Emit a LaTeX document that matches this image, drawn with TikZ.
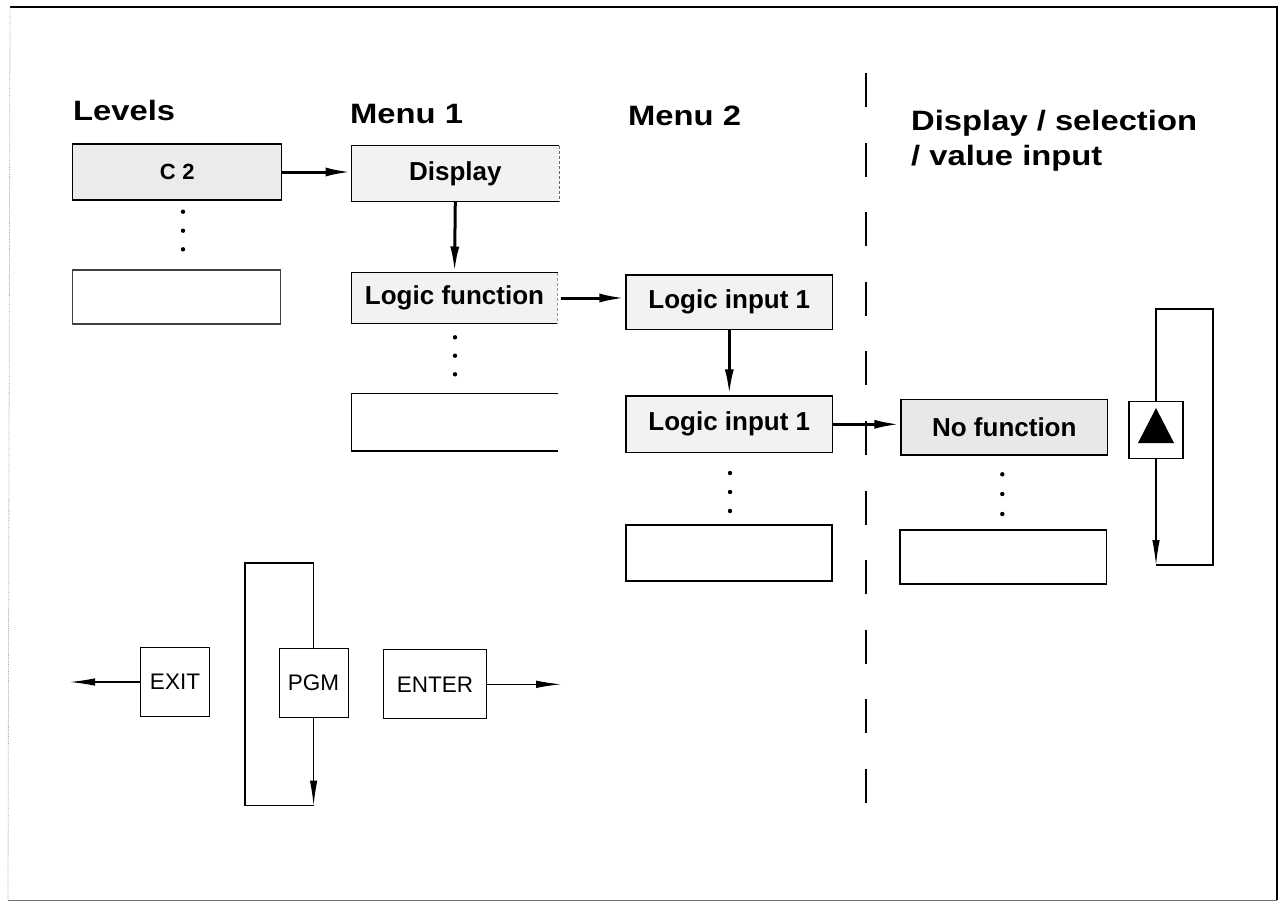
\documentclass[tikz,border=0pt]{standalone}
\usepackage{fontspec}
\setmainfont{Liberation Sans}
\newfontfamily\headfont[FakeStretch=1.17]{Liberation Sans}
\usetikzlibrary{arrows.meta}
\begin{document}
\begin{tikzpicture}[x=1pt,y=-1pt,
  box/.style={draw, line width=1.2pt, inner sep=0pt, font=\bfseries\fontsize{26}{28}\selectfont},
  openr/.style={draw=none, inner sep=0pt, font=\bfseries\fontsize{26}{28}\selectfont},
  keybox/.style={draw, line width=1.1pt, inner sep=0pt, minimum height=69pt, font=\fontsize{22.5}{24}\selectfont},
  heading/.style={anchor=base west, inner sep=0pt, font=\headfont\bfseries\fontsize{28}{30}\selectfont},
  bigarrow/.style={line width=3pt, -{Latex[length=26pt,width=9pt]}},
  thinarrow/.style={line width=1.1pt, -{Latex[length=25pt,width=7.5pt]}},
  loopline/.style={line width=1.1pt},
  dotmark/.style={fill=black, draw=none},
  frameline/.style={line width=1.2pt}
]
\useasboundingbox (0,0) rectangle (1287,905);

% outer frame
\draw[frameline] (10,7) -- (1277,7) -- (1277,900);
\draw[line width=1pt, black!55] (8,900) -- (1277,900);
\draw[line width=0.8pt, black!35, densely dotted] (10,7) -- (8,900);

% headings
\node[heading] (hlev) at (73,120) {Levels};
\node[heading] (hm1) at (350,123) {Menu 1};
\node[heading] (hm2) at (628,125) {Menu 2};
\node[heading] (hds1) at (911,130) {Display / selection};
\node[heading] (hds2) at (911,165) {/ value input};

% separator
\draw[line width=1.3pt, dash pattern=on 34pt off 35.6pt] (866,73) -- (866,803);

% Levels column
\node[box, fill=black!8, font=\bfseries\fontsize{22}{24}\selectfont, minimum width=209pt, minimum height=56pt] (c2) at (177.3,172) {C\hspace{0.3em}2};
\node[box, draw=black!75, minimum width=208pt, minimum height=54pt] (lve) at (176.8,297) {};
\foreach \yy in {211.7,230.7,249.3} \fill[dotmark] (183,\yy) circle (2.2pt);

% Menu 1 column (open right side)
\node[openr, fill=black!5, minimum width=207pt, minimum height=55pt] (disp) at (455.3,173.5) {Display};
\node[openr, fill=black!5, minimum width=205.6pt, minimum height=50.6pt] (logf) at (454.5,298) {Logic function};
\node[openr, minimum width=205.6pt, minimum height=57.4pt] (m1e) at (454.5,422) {};
\foreach \n in {disp,logf,m1e}{
  \draw[line width=1.2pt] (\n.north east) -- (\n.north west) -- (\n.south west) -- (\n.south east);
}
\draw[line width=1pt, black!60, densely dashed] (disp.north east) -- (disp.south east);
\draw[line width=0.8pt, black!40, densely dashed] (logf.north east) -- (logf.south east);
\foreach \yy in {337.3,355.7,374.3} \fill[dotmark] (455,\yy) circle (2.2pt);

% Menu 2 column
\node[box, fill=black!5, minimum width=206.7pt, minimum height=54.3pt] (li1) at (729.3,302.2) {Logic input 1};
\node[box, fill=black!5, minimum width=206.7pt, minimum height=56.7pt] (li2) at (729.3,424.3) {Logic input 1};
\node[box, minimum width=206pt, minimum height=56pt] (m2e) at (729,553) {};
\foreach \yy in {473,492,511} \fill[dotmark] (730,\yy) circle (2.2pt);

% Display / selection column
\node[box, fill=black!9, minimum width=206.7pt, minimum height=55.7pt] (nof) at (1004.3,427.2) {No function};
\node[box, minimum width=206.7pt, minimum height=54pt] (dse) at (1003.3,557) {};
\foreach \yy in {474.3,494,514} \fill[dotmark] (1002.3,\yy) circle (2.2pt);

% up key with loop
\node[box, minimum width=54pt, minimum height=57pt] (tri) at (1156,430) {};
\fill (1138,443) -- (1174,443) -- (1156,408) -- cycle;
\coordinate (tbr) at (1213,565);
\coordinate (ttr) at (1213,309);
\draw[thinarrow] (tri.south) -- (tri.south |- tbr);
\draw[loopline] (tri.south |- tbr) -- (tbr) -- (ttr) -- (tri.north |- ttr) -- (tri.north);

% main arrows
\draw[bigarrow] (c2.east) -- (c2.east -| disp.west);
\draw[bigarrow] (disp.south) -- (logf.north);
\draw[bigarrow] ([xshift=3pt]logf.east) -- (logf.east -| li1.west);
\draw[bigarrow] (li1.south) -- (li2.north);
\draw[bigarrow] (li2.east) -- (li2.east -| nof.west);

% keys
\node[keybox, minimum width=69pt] (exitk) at (175,682) {EXIT};
\node[keybox, minimum width=69pt] (pgm) at (313.6,683.2) {PGM};
\node[keybox, minimum width=102.6pt] (enter) at (435,684.3) {ENTER};
\coordinate (exitend) at (70,682);
\coordinate (enterend) at (561,684.3);
\draw[thinarrow] (exitk.west) -- (exitend);
\draw[thinarrow] (enter.east) -- (enterend);
\coordinate (ptl) at (245,563);
\coordinate (pbl) at (245,805.5);
\draw[loopline] (pgm.north) -- (pgm.north |- ptl) -- (ptl) -- (pbl) -- (pgm.south |- pbl);
\draw[thinarrow] (pgm.south) -- (pgm.south |- pbl);
\end{tikzpicture}
\end{document}
